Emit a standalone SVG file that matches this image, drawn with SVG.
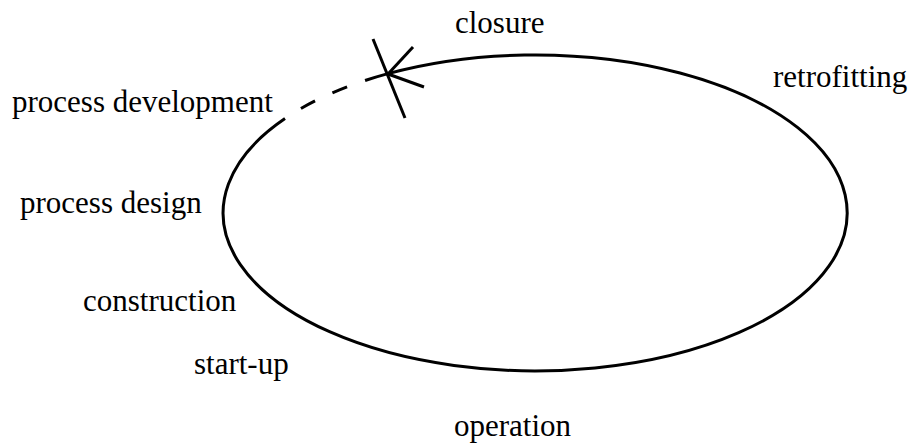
<svg xmlns="http://www.w3.org/2000/svg" width="913" height="443" viewBox="0 0 913 443">
  <style>
    .ln { fill: none; stroke: #000; stroke-width: 3; stroke-linecap: butt; }
  </style>
  <rect width="913" height="443" fill="#fff"/>

  <g id="connectors">
    <!-- life-cycle loop: solid part runs clockwise from the start mark round to process development -->
    <path id="cycle-solid" class="ln" d="M388,73.6 A312,158 0 1 1 285,118.5"/>
    <!-- dashed lead-in from process development to the start mark -->
    <path id="cycle-dashed" class="ln" d="M285,118.5 A312,158 0 0 1 388,73.6" stroke-dasharray="0 19 16 19 16 19 40"/>
    <!-- start mark: crossing stroke and arrow barbs -->
    <g id="start-mark">
      <line class="ln" x1="373" y1="39" x2="405" y2="118"/>
      <line class="ln" x1="388" y1="74" x2="413" y2="47"/>
      <line class="ln" x1="388" y1="74" x2="424" y2="87"/>
    </g>
  </g>

  <g font-family="Liberation Serif, serif" font-size="31" fill="#000">
    <g id="closure"><text x="455" y="33">closure</text></g>
    <g id="retrofitting"><text x="773" y="87">retrofitting</text></g>
    <g id="process-development"><text x="12" y="112">process development</text></g>
    <g id="process-design"><text x="20" y="213">process design</text></g>
    <g id="construction"><text x="83" y="311">construction</text></g>
    <g id="start-up"><text x="194" y="374">start-up</text></g>
    <g id="operation"><text x="454" y="436">operation</text></g>
  </g>
</svg>
